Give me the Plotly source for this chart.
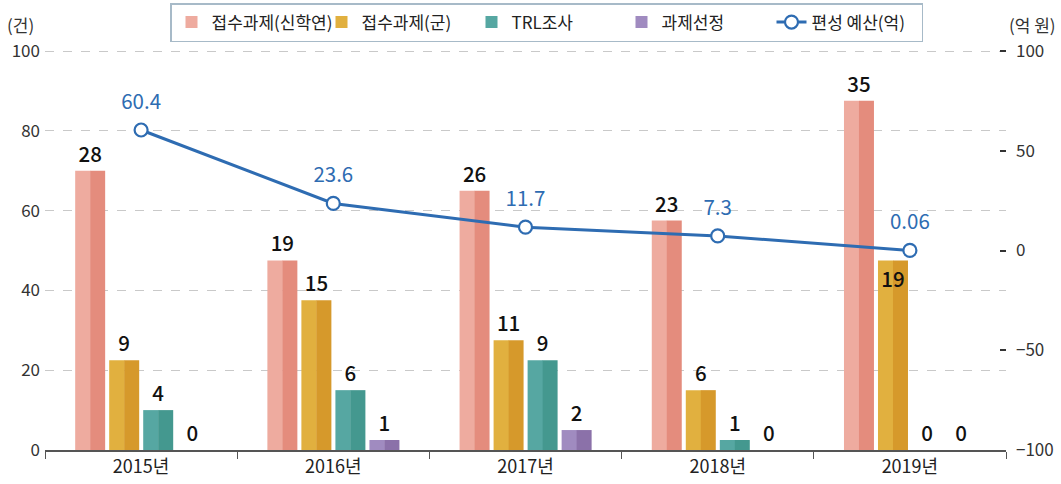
import plotly.graph_objects as go

# ---- data ----
years = ["2015년", "2016년", "2017년", "2018년", "2019년"]
series_names = ["접수과제(신학연)", "접수과제(군)", "TRL조사", "과제선정"]
v_shin = [28, 19, 26, 23, 35]
v_gun = [9, 15, 11, 6, 19]
v_trl = [4, 6, 9, 1, 0]
v_sel = [0, 1, 2, 0, 0]
budget = [60.4, 23.6, 11.7, 7.3, 0.06]
budget_labels = ["60.4", "23.6", "11.7", "7.3", "0.06"]
left_tick_labels = [0, 20, 40, 60, 80, 100]
right_tick_vals = [-100, -50, 0, 50, 100]
line_name = "편성 예산(억)"

# ---- style ----
FONT = "Noto Sans CJK KR"
light = ["#eeab9f", "#e1b03f", "#56a7a2", "#a08bc0"]
dark = ["#e48c7d", "#d6992b", "#44988f", "#8b71a9"]
LINE = "#2e6cb2"
BAR_W = 0.156
STEP = 0.177
START = -0.343
LEFT_SCALE = 2.5  # left axis shows counts * 2.5
HEAD = 1.005      # small headroom so the top gridline is drawn
LBL = dict(family=FONT, size=20.5, color="#111111", weight=500)

series_vals = [v_shin, v_gun, v_trl, v_sel]

fig = go.Figure()
for i, (nm, vals) in enumerate(zip(series_names, series_vals)):
    off = START + i * STEP
    fig.add_trace(go.Bar(x=years, y=vals, name=nm, offset=off, width=BAR_W / 2 + 0.002,
                         marker=dict(color=light[i], line=dict(width=0)),
                         hoverinfo="skip", legendrank=i))
    fig.add_trace(go.Bar(x=years, y=vals, name=nm, offset=off + BAR_W / 2, width=BAR_W / 2,
                         marker=dict(color=dark[i], line=dict(width=0)),
                         showlegend=False, hoverinfo="skip"))

for i, (nm, vals) in enumerate(zip(series_names, series_vals)):
    off = START + i * STEP
    pos = ["outside"] * len(vals)
    if i == 1:
        pos[4] = "inside"
    fig.add_trace(go.Bar(x=years, y=vals, name=nm, offset=off, width=BAR_W,
                         marker=dict(color="rgba(0,0,0,0)", line=dict(width=0)),
                         text=[str(v) for v in vals], textposition=pos,
                         insidetextanchor="end", constraintext="none",
                         textfont=LBL, outsidetextfont=LBL, insidetextfont=LBL,
                         cliponaxis=False, showlegend=False, hoverinfo="skip"))

fig.add_trace(go.Scatter(x=years, y=budget, name=line_name, yaxis="y2",
                         mode="lines+markers",
                         line=dict(color=LINE, width=3),
                         marker=dict(size=13, color="white", line=dict(color=LINE, width=2.2)),
                         cliponaxis=False, legendrank=10, hoverinfo="skip"))
fig.add_trace(go.Scatter(x=years, y=budget, yaxis="y2", mode="markers+text",
                         marker=dict(size=24, color="rgba(0,0,0,0)"),
                         text=budget_labels, textposition="top center",
                         textfont=dict(family=FONT, size=20.5, color=LINE),
                         cliponaxis=False, showlegend=False, hoverinfo="skip"))

T, B = 49, 34
pw = 1061 - 45 - 55
ph = 484 - T - B

fig.update_layout(
    width=1061, height=484,
    margin=dict(l=45, r=55, t=T, b=B, autoexpand=False),
    paper_bgcolor="white", plot_bgcolor="white",
    barmode="overlay",
    font=dict(family=FONT, size=17, color="#333333"),
    showlegend=True,
    legend=dict(orientation="h", x=(170 - 45) / pw, xanchor="left",
                y=(484 - B - 3) / ph, yanchor="top",
                bordercolor="#a7bac8", borderwidth=1.5, bgcolor="white",
                font=dict(family=FONT, size=17, color="#222222"),
                itemwidth=30, entrywidth=105, entrywidthmode="pixels"),
    xaxis=dict(type="category", showline=True, linecolor="#555555", linewidth=1.5,
               ticks="outside", ticklen=7, tickcolor="#555555", tickson="boundaries",
               tickfont=dict(family=FONT, size=18, color="#222222"),
               range=[-0.5, 4.5], showgrid=False, zeroline=False),
    yaxis=dict(range=[0, 100 / LEFT_SCALE * HEAD],
               tickvals=[t / LEFT_SCALE for t in left_tick_labels],
               ticktext=[str(t) for t in left_tick_labels],
               showgrid=True, gridcolor="#c9c9c9", griddash="dash", gridwidth=1,
               showline=False, zeroline=False, ticks="", ticklabelstandoff=4,
               tickfont=dict(family=FONT, size=17, color="#333333")),
    yaxis2=dict(range=[-100, -100 + 200 * HEAD], tickvals=right_tick_vals,
                overlaying="y", side="right",
                showgrid=False, zeroline=False, showline=False,
                ticks="inside", ticklen=6, tickcolor="#333333", tickwidth=1.5,
                ticklabelstandoff=9,
                tickfont=dict(family=FONT, size=17, color="#333333")),
    annotations=[
        dict(text="(건)", x=(20 - 45) / pw, y=(484 - B - 24) / ph, xref="paper", yref="paper",
             showarrow=False, xanchor="center", yanchor="middle",
             font=dict(family=FONT, size=17, color="#333333")),
        dict(text="(억 원)", x=(1032 - 45) / pw, y=(484 - B - 24) / ph, xref="paper", yref="paper",
             showarrow=False, xanchor="center", yanchor="middle",
             font=dict(family=FONT, size=17, color="#333333")),
    ],
)

fig.write_html("out.html")
